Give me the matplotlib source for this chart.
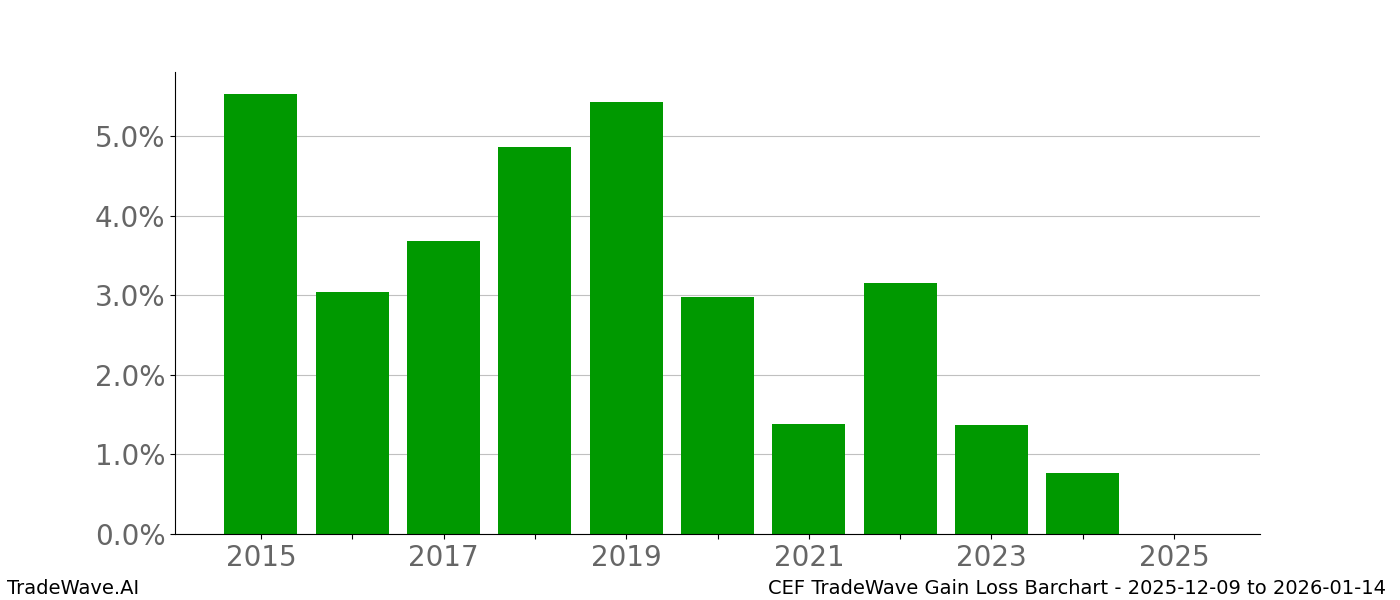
import matplotlib
matplotlib.use("Agg")
import matplotlib.pyplot as plt
from matplotlib.ticker import FuncFormatter

years = [2015, 2016, 2017, 2018, 2019, 2020, 2021, 2022, 2023, 2024, 2025]
gains = [5.53, 3.04, 3.68, 4.86, 5.43, 2.98, 1.38, 3.15, 1.37, 0.77, 0.0]

fig = plt.figure(figsize=(14, 6), dpi=100)
ax = fig.add_axes([0.125, 0.11, 0.775, 0.77])

ax.bar(years, gains, width=0.8, color="#009900", zorder=2)

ax.set_xticks(years)
ax.set_xticklabels([str(y) if y % 2 == 1 else "" for y in years])
ax.yaxis.set_major_formatter(FuncFormatter(lambda v, p: f"{v:.1f}%"))
ax.tick_params(axis="both", labelsize=20, labelcolor="#666666")
ax.grid(axis="y", color="#c0c0c0", linewidth=0.8, zorder=0)
ax.spines["top"].set_visible(False)
ax.spines["right"].set_visible(False)

fig.text(0.005, 0.01, "TradeWave.AI", fontsize=14)
fig.text(0.99, 0.01, "CEF TradeWave Gain Loss Barchart - 2025-12-09 to 2026-01-14",
         fontsize=14, ha="right")

fig.savefig("out.png")
